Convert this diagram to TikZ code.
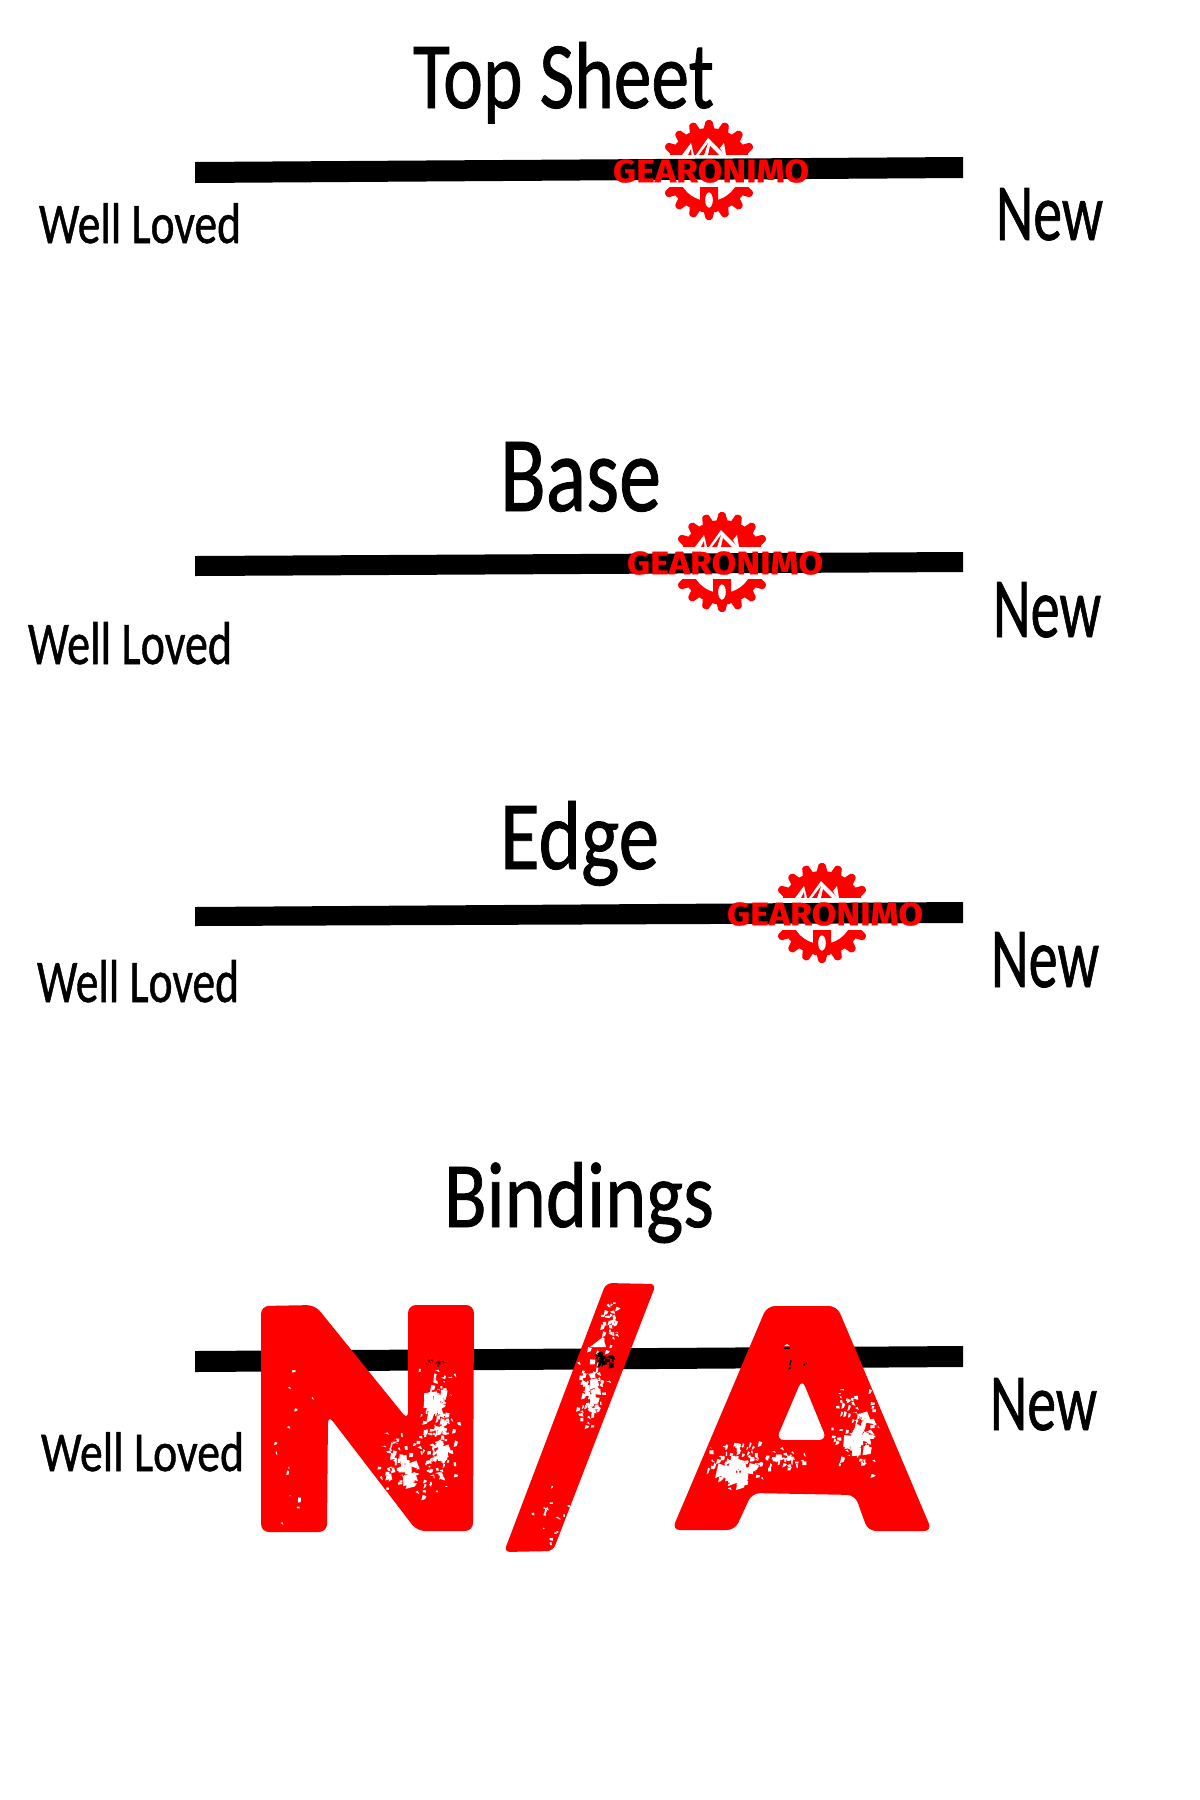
\documentclass[tikz,border=0pt]{standalone}
\usepackage{fontspec}
\setmainfont{Carlito}[FakeBold=0.9]
\newfontfamily\logofont{Fira Sans Bold}[FakeBold=0.5]
\definecolor{stampred}{RGB}{255,0,0}
% fitted text: width and height in reference pixels (1px = 0.5pt)
\newcommand{\fitted}[3]{\resizebox{\dimexpr #1pt/2\relax}{\dimexpr #2pt/2\relax}{#3}}
% scattered flecks: count, centre x, centre y, spread x, spread y, size, colour
\newcommand{\flecks}[7]{%
  \foreach \i in {1,...,#1}{%
    \pgfmathsetmacro\fx{#2+#4*(rnd+rnd-1)}%
    \pgfmathsetmacro\fy{#3+#5*(rnd+rnd-1)}%
    \pgfmathsetmacro\fa{#6*(0.4+rnd)}%
    \pgfmathsetmacro\fb{#6*(0.4+rnd)}%
    \pgfmathsetmacro\fc{#6*(rnd-0.5)}%
    \fill[#7] (\fx,\fy) -- ++(\fa,\fc) -- ++(-\fc,\fb) -- ++(-\fa,\fc) -- cycle;%
  }%
}
\tikzset{
  bar/.style={fill=black},
  stamp/.style={fill=stampred},
  label/.style={inner sep=0pt,outer sep=0pt,anchor=base west,text=black},
  logotext/.style={inner sep=0pt,outer sep=0pt,anchor=center,text=stampred,font=\logofont},
  gearlogo/.pic={
    \fill[stampred] (0,0) circle (21pt);
    \foreach \a in {90,70,50,30,-30,-50,-70,-90,-110,-130,-150,110,130,150}{
      \fill[stampred,rounded corners=0.8pt] (\a-9:39) -- (\a-3.5:50) -- (\a+3.5:50) -- (\a+9:39) -- cycle;
    }
    % lower hub
    \begin{scope}
      \clip (-52,0) rectangle (52,50);
      \fill[white] (0,0) circle (15.5pt);
    \end{scope}
    \fill[stampred,rounded corners=1pt] (-9,10) -- (9,10) -- (9,42) -- (-9,42) -- cycle;
    \fill[white] (0,30) ellipse (1.9pt and 3.8pt);
    % mountains
    \fill[white] (-1,-32) -- (-13,-15) -- (16,-15) -- cycle;
    \fill[stampred] (-10,-15) -- (-1,-27) -- (-5,-15) -- cycle;
    \fill[stampred] (1,-24) -- (10,-15) -- (-1,-15) -- cycle;
    \fill[white] (-27,-15) -- (-18,-27) -- (-15,-15) -- cycle;
    \fill[stampred] (-21,-15) -- (-18,-21) -- (-17.5,-15) -- cycle;
    \fill[white] (11,-22) -- (15,-27) -- (17,-15) -- (15,-15) -- cycle;
    % band behind the lettering
    \fill[white] (-52,-15) rectangle (52,17);
  }
}
\begin{document}
\begin{tikzpicture}[x=0.5pt,y=-0.5pt]
\useasboundingbox (0,0) rectangle (1200,1800);
\fill[white] (0,0) rectangle (1200,1800);

% gears under the bars
\pic at (709,170) {gearlogo};
\pic at (722,562) {gearlogo};
\pic at (822,913) {gearlogo};

% bars
\fill[bar] (195,162) -- (963,157) -- (963,178) -- (195,183) -- cycle;
\fill[bar] (195,556) -- (963,552) -- (963,572) -- (195,576) -- cycle;
\fill[bar] (195,907) -- (963,902) -- (963,923) -- (195,926) -- cycle;
\fill[bar] (195,1351) -- (963,1346) -- (963,1367) -- (195,1372) -- cycle;

% logo lettering
\node[logotext] (logoa) at (711,171) {\fitted{196}{23}{GEARONIMO}};
\node[logotext] (logob) at (725,563) {\fitted{196}{23}{GEARONIMO}};
\node[logotext] (logoc) at (825,914) {\fitted{196}{23}{GEARONIMO}};

% titles
\node[label] (topsheet) at (413,108) {\fitted{301}{66}{Top Sheet}};
\node[label] (base) at (500,511) {\fitted{161}{69}{Base}};
\node[label] (edge) at (500,869) {\fitted{159}{68}{Edge}};
\node[label] (bindings) at (444,1227) {\fitted{270}{65}{Bindings}};

% scale ends
\node[label] (wla) at (39,243) {\fitted{202}{40}{Well Loved}};
\node[label] (wlb) at (28,664) {\fitted{204}{42}{Well Loved}};
\node[label] (wlc) at (37,1002) {\fitted{202}{42}{Well Loved}};
\node[label] (wld) at (41,1471) {\fitted{203}{39}{Well Loved}};
\node[label] (newa) at (996,240) {\fitted{107}{52}{New}};
\node[label] (newb) at (993,637) {\fitted{108}{55}{New}};
\node[label] (newc) at (991,987) {\fitted{108}{55}{New}};
\node[label] (newd) at (990,1430) {\fitted{107}{52}{New}};

% N/A stamp
\fill[stamp,rounded corners=4pt]
  (261,1306) -- (315,1305) -- (408,1420) -- (408,1305) -- (474,1305) -- (473,1531)
  -- (417,1531) -- (328,1415) -- (327,1532) -- (261,1532) -- cycle;
\fill[stamp,rounded corners=3pt]
  (606,1283) -- (656,1284) -- (553,1551) -- (504,1552) -- cycle;
\fill[stamp,even odd rule,rounded corners=4pt]
  (767,1306) -- (837,1306) -- (932,1531) -- (868,1531) -- (855,1495) -- (752,1493)
  -- (735,1530) -- (672,1530) -- cycle
  (802,1379) -- (827,1440) -- (776,1440) -- cycle;

\pgfmathsetseed{4242}
% N flecks
\flecks{70}{437}{1410}{22}{46}{3}{white}
\flecks{70}{436}{1460}{20}{40}{3}{white}
\flecks{60}{398}{1465}{24}{34}{3}{white}
\flecks{18}{432}{1400}{12}{22}{7}{white}
\flecks{14}{438}{1445}{8}{22}{7}{white}
\flecks{14}{402}{1465}{12}{18}{7}{white}
\flecks{8}{432}{1362}{12}{6}{1.8}{black}
\flecks{14}{290}{1440}{24}{90}{2.5}{white}
% slash flecks
\flecks{30}{612}{1322}{14}{26}{3}{white}
\flecks{70}{590}{1395}{20}{55}{3}{white}
\flecks{14}{590}{1385}{8}{30}{6}{white}
\flecks{16}{550}{1510}{24}{40}{2.5}{white}
\flecks{30}{603}{1359}{11}{8}{3.5}{black}
\fill[white] (590,1347) -- (603,1337) -- (606,1347) -- cycle;
% A flecks
\flecks{80}{738}{1462}{36}{30}{3}{white}
\flecks{22}{735}{1465}{18}{12}{7}{white}
\flecks{45}{780}{1458}{28}{11}{3}{white}
\flecks{80}{855}{1430}{26}{46}{3}{white}
\flecks{22}{855}{1430}{14}{20}{8}{white}
\fill[black] (784,1347) rectangle (790,1348.5);
\fill[white] (784,1346) -- (787,1344) -- (790,1346) -- cycle;
\flecks{6}{800}{1362}{18}{5}{2}{black}
\end{tikzpicture}
\end{document}
